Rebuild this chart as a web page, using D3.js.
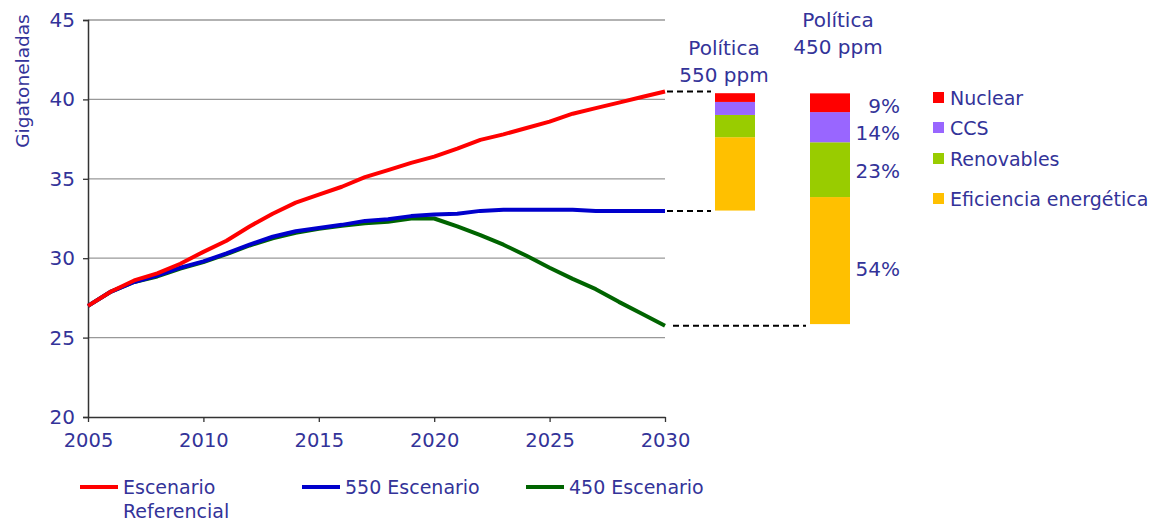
<!DOCTYPE html>
<html>
<head>
<meta charset="utf-8">
<script src="https://cdn.jsdelivr.net/npm/d3@7"></script>
<style>
  body { margin: 0; background: #fff; }
  svg text { font-family: Tahoma, "DejaVu Sans", sans-serif; fill: #333399; }
</style>
</head>
<body>
<div id="chart"></div>
<script>
// Years and emission scenarios (Gt CO2)
const years = d3.range(2005, 2031);
const referencial = [27.0, 27.9, 28.6, 29.05, 29.65, 30.4, 31.1, 32.0, 32.8, 33.5, 34.0, 34.5, 35.1, 35.55, 36.0, 36.4,
  36.9, 37.45, 37.8, 38.2, 38.6, 39.1, 39.45, 39.8, 40.15, 40.5];
const esc550 = [27.0, 27.9, 28.5, 28.9, 29.4, 29.8, 30.3, 30.85, 31.35, 31.7, 31.9, 32.1, 32.35, 32.45, 32.65, 32.75,
  32.8, 32.98, 33.05, 33.05, 33.05, 33.05, 32.98, 32.98, 32.98, 32.98];
const esc450 = [27.0, 27.9, 28.5, 28.85, 29.35, 29.75, 30.25, 30.8, 31.25, 31.6, 31.85, 32.05, 32.2, 32.3, 32.5, 32.5,
  32.0, 31.45, 30.85, 30.15, 29.4, 28.7, 28.05, 27.25, 26.5, 25.75];

const yTicks = [20, 25, 30, 35, 40, 45];
const xTicks = [2005, 2010, 2015, 2020, 2025, 2030];

// Stacked reduction wedges (from the base of each policy bar upward)
const wedges = ["Eficiencia energética", "Renovables", "CCS", "Nuclear"];
const wedgeColors = ["#ffc000", "#99cc00", "#9966ff", "#ff0000"];
const policies = ["550", "450"];
const policyBase = [33.0, 25.85];
const policy550 = [4.62, 1.4, 0.82, 0.55];
const policy450 = [8.0, 3.45, 1.9, 1.18];
const pct450 = ["54%", "23%", "14%", "9%"];
// value level where each percentage label sits (baseline)
const pctLevel = [28.9, 35.05, 37.45, 39.15];

const legendSeries = [
  { name: ["Escenario", "Referencial"], color: "#ff0000", values: referencial },
  { name: ["550 Escenario"], color: "#0000cc", values: esc550 },
  { name: ["450 Escenario"], color: "#006400", values: esc450 }
];

const width = 1150, height = 521;
const svg = d3.select("#chart").append("svg")
  .attr("width", width).attr("height", height);

const x = d3.scaleLinear().domain([2005, 2030]).range([88, 665]);
const y = d3.scaleLinear().domain([20, 45]).range([417, 20]);

// Gridlines
svg.append("g").selectAll("line")
  .data(yTicks.filter(d => d > 20))
  .enter().append("line")
  .attr("x1", x(2005)).attr("x2", x(2030))
  .attr("y1", d => y(d)).attr("y2", d => y(d))
  .attr("stroke", "#999").attr("stroke-width", 1.3);

// Y axis
const yAxis = svg.append("g")
  .attr("transform", `translate(${x(2005)},0)`)
  .call(d3.axisLeft(y).tickValues(yTicks).tickSize(5).tickPadding(8));
yAxis.select(".domain").attr("stroke", "#333").attr("stroke-width", 1.5);
yAxis.selectAll(".tick line").attr("stroke", "#333").attr("stroke-width", 1.3);
yAxis.selectAll("text").attr("font-size", 20).style("font-family", null);

// X axis
const xAxis = svg.append("g")
  .attr("transform", `translate(0,${y(20)})`)
  .call(d3.axisBottom(x).tickValues(xTicks).tickFormat(d3.format("d")).tickSize(5).tickSizeOuter(0).tickPadding(11));
xAxis.select(".domain").attr("stroke", "#333").attr("stroke-width", 1.5);
xAxis.selectAll(".tick line").attr("stroke", "#333").attr("stroke-width", 1.3);
xAxis.selectAll("text").attr("font-size", 19.5).style("font-family", null);

// Y title
svg.append("text")
  .attr("transform", `translate(29,${81}) rotate(-90)`)
  .attr("text-anchor", "middle")
  .attr("font-size", 18.5)
  .text("Gigatoneladas");

// Lines
const line = d3.line()
  .x((d, i) => x(years[i]))
  .y(d => y(d));

[legendSeries[2], legendSeries[1], legendSeries[0]].forEach(s => {
  svg.append("path")
    .datum(s.values)
    .attr("d", line)
    .attr("fill", "none")
    .attr("stroke", s.color)
    .attr("stroke-width", 4)
    .attr("stroke-linejoin", "round");
});

// Policy bars
const px = d3.scalePoint().domain(policies).range([735, 830]);
const barW = 40;
[policy550, policy450].forEach((vals, pi) => {
  let acc = policyBase[pi];
  vals.forEach((v, k) => {
    svg.append("rect")
      .attr("x", px(policies[pi]) - barW / 2)
      .attr("y", y(acc + v))
      .attr("width", barW)
      .attr("height", y(acc) - y(acc + v))
      .attr("fill", wedgeColors[k]);
    if (pi === 1) {
      svg.append("text")
        .attr("x", 900)
        .attr("y", y(pctLevel[k]))
        .attr("text-anchor", "end")
        .attr("font-size", 20)
        .text(pct450[k]);
    }
    acc += v;
  });
});

// Dashed connectors from line ends to bars
const dash = [
  { v: referencial[referencial.length - 1], to: px("550") - barW / 2 - 4, from: x(2030) + 2 },
  { v: esc550[esc550.length - 1], to: px("550") - barW / 2 - 4, from: x(2030) + 2 },
  { v: esc450[esc450.length - 1], to: px("450") - barW / 2 - 4, from: x(2030) + 8 }
];
svg.append("g").selectAll("line")
  .data(dash).enter().append("line")
  .attr("x1", d => d.from).attr("x2", d => d.to)
  .attr("y1", d => y(d.v)).attr("y2", d => y(d.v))
  .attr("stroke", "#000").attr("stroke-width", 2)
  .attr("stroke-dasharray", "6,4");

// Policy titles
const titles = [["Política", "550 ppm"], ["Política", "450 ppm"]];
const titleTop = [55, 27];
titles.forEach((t, i) => {
  t.forEach((s, j) => {
    svg.append("text")
      .attr("x", px(policies[i]) - (i === 0 ? 11 : -8))
      .attr("y", titleTop[i] + j * 27)
      .attr("text-anchor", "middle")
      .attr("font-size", 20)
      .text(s);
  });
});

// Wedge legend
const legendOrder = [3, 2, 1, 0];
const legendY = [98, 128, 159, 199];
legendOrder.forEach((k, i) => {
  svg.append("rect")
    .attr("x", 933).attr("y", legendY[i] - 6)
    .attr("width", 11).attr("height", 11)
    .attr("fill", wedgeColors[k]);
  svg.append("text")
    .attr("x", 950).attr("y", legendY[i] + 7)
    .attr("font-size", 19)
    .text(wedges[k]);
});

// Series legend
const legendX = [80, 302, 526];
legendSeries.forEach((s, i) => {
  svg.append("line")
    .attr("x1", legendX[i]).attr("x2", legendX[i] + 38)
    .attr("y1", 487).attr("y2", 487)
    .attr("stroke", s.color).attr("stroke-width", 4);
  s.name.forEach((n, j) => {
    svg.append("text")
      .attr("x", legendX[i] + 43)
      .attr("y", 494 + j * 24)
      .attr("font-size", 19)
      .text(n);
  });
});
</script>
</body>
</html>
